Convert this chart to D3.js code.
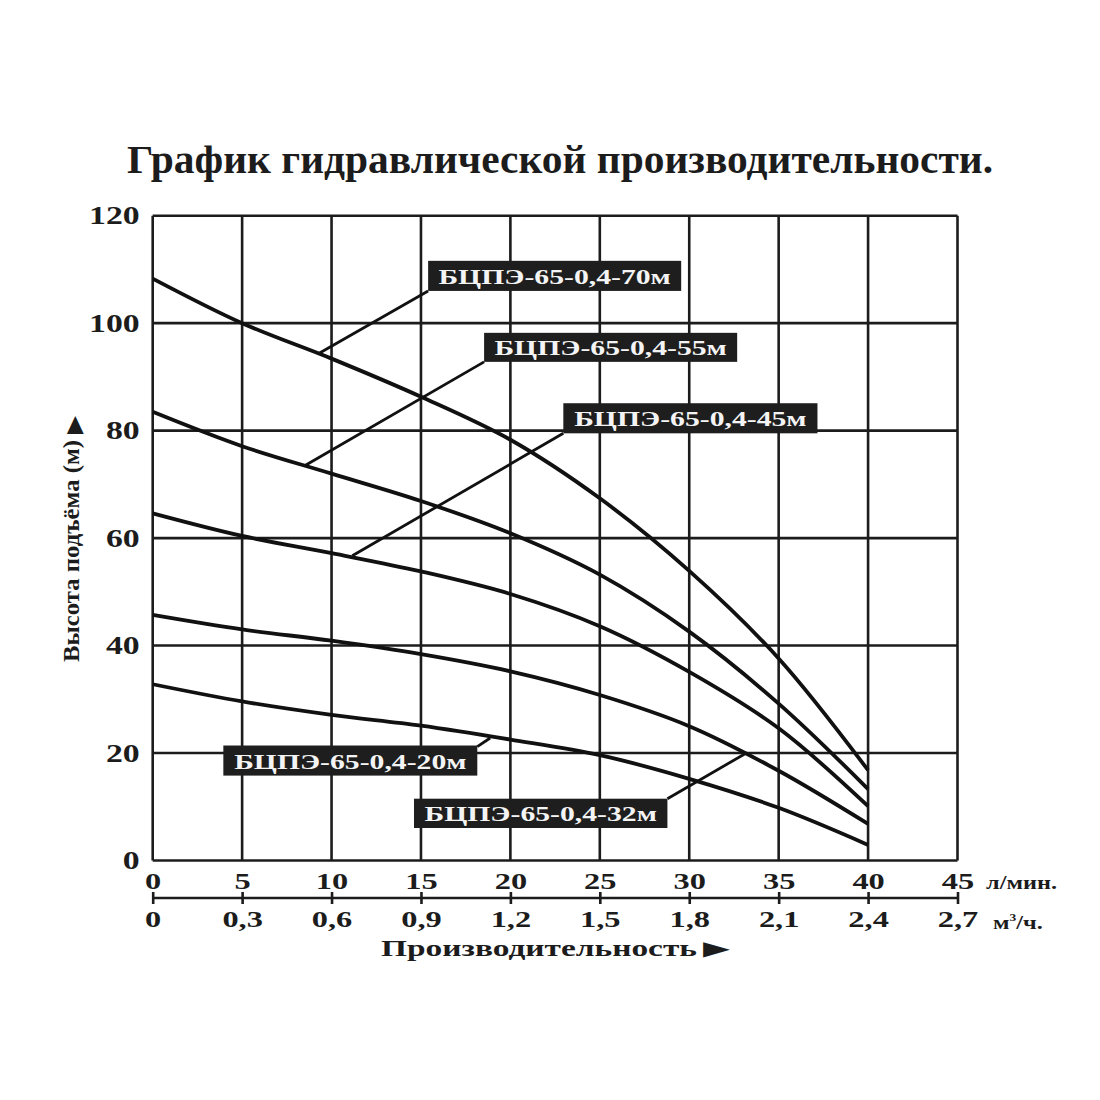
<!DOCTYPE html>
<html>
<head>
<meta charset="utf-8">
<script src="https://cdn.jsdelivr.net/npm/d3@7"></script>
<style>
  body { margin: 0; background: #fff; }
  text { font-family: "Liberation Serif", "Times New Roman", serif; fill: #1c1c1c; }
</style>
</head>
<body>
<div id="chart"></div>
<script>
// Расход, л/мин
const flow = [0, 5, 10, 15, 20, 25, 30, 35, 40];

// Напор, м (по моделям)
const head70 = [108.3, 100, 93.4, 86.3, 78.3, 67.4, 53.9, 37.6, 16.8];
const head55 = [83.5, 77.1, 72.0, 66.9, 60.9, 53.2, 42.6, 29.2, 13.3];
const head45 = [64.6, 60.4, 57.2, 53.8, 49.6, 43.6, 35.1, 24.6, 10.1];
const head32 = [45.7, 43.0, 40.9, 38.4, 35.2, 30.8, 25.0, 16.7, 6.8];
const head20 = [32.8, 29.6, 27.1, 25.1, 22.5, 19.6, 15.2, 9.8, 2.9];

const modelNames = ["БЦПЭ-65-0,4-70м", "БЦПЭ-65-0,4-55м", "БЦПЭ-65-0,4-45м",
                    "БЦПЭ-65-0,4-32м", "БЦПЭ-65-0,4-20м"];

// Подписи осей
const xTicks = [0, 5, 10, 15, 20, 25, 30, 35, 40, 45];
const yTicks = [0, 20, 40, 60, 80, 100, 120];
const m3Ticks = [0, 0.3, 0.6, 0.9, 1.2, 1.5, 1.8, 2.1, 2.4, 2.7];

// Выноски: угол плашки -> точка на кривой (в единицах графика)
const boxX0 = [15.4, 18.53, 22.96, 14.61, 3.95];
const boxX1 = [29.55, 32.68, 37.17, 28.78, 18.15];
const boxTop = [111.6, 98.2, 85.1, 11.5, 21.4];
const boxBottom = [106.0, 92.8, 79.5, 6.05, 15.8];
const leadFrom = [[15.4, 106.0], [18.53, 92.8], [22.96, 79.5], [28.78, 11.5], [18.15, 21.2]];
const leadTo = [[9.26, 94.3], [8.52, 73.5], [11.16, 56.7], [33.22, 20.06], [18.87, 22.8]];

const W = 1100, H = 1100;
const margin = {top: 215.7, left: 152.7, right: 1100 - 957.5, bottom: 1100 - 860.5};
const width = W - margin.left - margin.right;
const height = H - margin.top - margin.bottom;
const ink = "#1c1c1c";
const sx = 1.35; // растяжка шрифта по горизонтали, как в оригинале

const svg = d3.select("#chart").append("svg")
    .attr("width", W).attr("height", H);

const g = svg.append("g")
    .attr("transform", `translate(${margin.left},${margin.top})`);

const x = d3.scaleLinear().domain([0, 45]).range([0, width]);
const x2 = d3.scaleLinear().domain([0, 2.7]).range([0, width]);
const y = d3.scaleLinear().domain([0, 120]).range([height, 0]);

// Сетка
g.selectAll(".vgrid").data(xTicks).enter().append("line")
    .attr("x1", d => x(d)).attr("x2", d => x(d))
    .attr("y1", 0).attr("y2", height)
    .attr("stroke", ink).attr("stroke-width", 2.6);

g.selectAll(".hgrid").data(yTicks).enter().append("line")
    .attr("x1", 0).attr("x2", width)
    .attr("y1", d => y(d)).attr("y2", d => y(d))
    .attr("stroke", ink).attr("stroke-width", 2.6);

// Кривые
const series = [head70, head55, head45, head32, head20];
const line = d3.line()
    .x((d, i) => x(flow[i]))
    .y(d => y(d))
    .curve(d3.curveCatmullRom.alpha(0.5));

g.selectAll(".curve").data(series).enter().append("path")
    .attr("d", line)
    .attr("fill", "none")
    .attr("stroke", "#111")
    .attr("stroke-width", 3.8);

// Выноски и плашки
g.selectAll(".lead").data(modelNames).enter().append("line")
    .attr("x1", (d, i) => x(leadFrom[i][0])).attr("y1", (d, i) => y(leadFrom[i][1]))
    .attr("x2", (d, i) => x(leadTo[i][0])).attr("y2", (d, i) => y(leadTo[i][1]))
    .attr("stroke", "#111").attr("stroke-width", 2.8);

const tags = g.selectAll(".tag").data(modelNames).enter().append("g");
tags.append("rect")
    .attr("x", (d, i) => x(boxX0[i]))
    .attr("y", (d, i) => y(boxTop[i]))
    .attr("width", (d, i) => x(boxX1[i]) - x(boxX0[i]))
    .attr("height", (d, i) => y(boxBottom[i]) - y(boxTop[i]))
    .attr("fill", "#1e1e1e");
tags.append("text")
    .attr("transform", (d, i) => `translate(${(x(boxX0[i]) + x(boxX1[i])) / 2},${y(boxBottom[i]) - 7}) scale(${sx},1)`)
    .attr("text-anchor", "middle")
    .style("font-size", "22px")
    .style("font-weight", "bold")
    .style("fill", "#f4f4f4")
    .text(d => d);

// Ось Y
const yAxis = g.append("g")
    .call(d3.axisLeft(y).tickValues(yTicks).tickSize(0).tickPadding(0));
yAxis.select(".domain").remove();
yAxis.selectAll("text")
    .attr("x", -13 / sx)
    .attr("transform", `scale(${sx},1)`)
    .style("font-size", "25px")
    .style("font-weight", "bold")
    .style("font-family", "Liberation Serif, serif")
    .style("fill", ink);

// Ось X (л/мин)
const xAxis = g.append("g")
    .attr("transform", `translate(0,${height})`)
    .call(d3.axisBottom(x).tickValues(xTicks).tickSize(0).tickPadding(11));
xAxis.select(".domain").remove();
xAxis.selectAll("text")
    .attr("transform", `scale(${sx},1)`)
    .style("font-size", "24px")
    .style("font-weight", "bold")
    .style("font-family", "Liberation Serif, serif")
    .style("fill", ink);

// Ось X (м³/ч)
const x2Axis = g.append("g")
    .attr("transform", `translate(0,${898 - margin.top})`)
    .call(d3.axisBottom(x2).tickValues(m3Ticks).tickSize(6).tickPadding(6)
        .tickFormat(d => String(d).replace(".", ",")));
x2Axis.select(".domain").attr("stroke", ink).attr("stroke-width", 2.6).attr("d", `M0,0H${width}`);
x2Axis.selectAll(".tick line").attr("y1", -6).attr("y2", 6)
    .attr("stroke", ink).attr("stroke-width", 2.6);
x2Axis.selectAll("text")
    .attr("transform", `scale(${sx},1)`)
    .style("font-size", "24px")
    .style("font-weight", "bold")
    .style("font-family", "Liberation Serif, serif")
    .style("fill", ink);

// Единицы
svg.append("text")
    .attr("transform", `translate(986,889) scale(${sx},1)`)
    .style("font-size", "18px").style("font-weight", "bold")
    .text("л/мин.");
svg.append("text")
    .attr("transform", `translate(993,929) scale(${sx},1)`)
    .style("font-size", "18px").style("font-weight", "bold")
    .html('м<tspan dy="-8" style="font-size:10px">3</tspan><tspan dy="8">/ч.</tspan>');

// Подписи осей
svg.append("text")
    .attr("x", 381).attr("y", 956)
    .attr("textLength", 316).attr("lengthAdjust", "spacingAndGlyphs")
    .style("font-size", "23px").style("font-weight", "bold")
    .text("Производительность");
svg.append("text")
    .attr("x", 703).attr("y", 955)
    .attr("textLength", 27).attr("lengthAdjust", "spacingAndGlyphs")
    .style("font-family", "DejaVu Sans").style("font-size", "20px")
    .text("▶");

svg.append("text")
    .attr("transform", "translate(79,662) rotate(-90)")
    .attr("textLength", 222).attr("lengthAdjust", "spacingAndGlyphs")
    .style("font-size", "23px").style("font-weight", "bold")
    .text("Высота подъёма (м)");
svg.append("text")
    .attr("transform", "translate(81,434) rotate(-90)")
    .attr("textLength", 18).attr("lengthAdjust", "spacingAndGlyphs")
    .style("font-family", "DejaVu Sans").style("font-size", "22px")
    .text("▶");

// Заголовок
svg.append("text")
    .attr("x", 127).attr("y", 173)
    .attr("textLength", 866).attr("lengthAdjust", "spacingAndGlyphs")
    .style("font-size", "41px").style("font-weight", "bold")
    .text("График гидравлической производительности.");
</script>
</body>
</html>
